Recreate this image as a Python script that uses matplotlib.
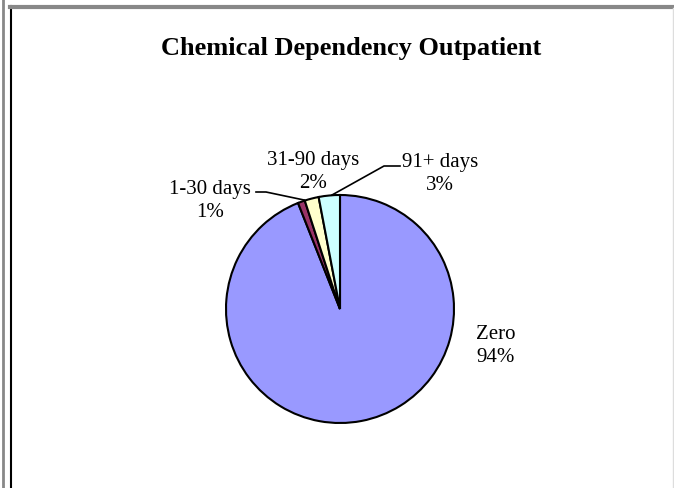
import numpy as np
import matplotlib.pyplot as plt

labels = ["Zero", "1-30 days", "31-90 days", "91+ days"]
values = [94, 1, 2, 3]
colors = ["#9999FF", "#993366", "#FFFFCC", "#CCFFFF"]
title = "Chemical Dependency Outpatient"

W, H = 674, 489
fig = plt.figure(figsize=(W / 100, H / 100), dpi=100)
plt.rcParams['font.family'] = ['Liberation Serif', 'DejaVu Serif']

# frame lines (figure pixel coords)
bg = fig.add_axes([0, 0, 1, 1])
bg.set_xlim(0, W)
bg.set_ylim(H, 0)
bg.axis('off')
bg.plot([2.5, 2.5], [0, H], color='#888888', lw=2)
bg.plot([10.5, 10.5], [7, H], color='black', lw=1.5)
bg.plot([10, W], [7.5, 7.5], color='#888888', lw=3)
bg.plot([W - 1, W - 1], [9, H], color='#dddddd', lw=1)
bg.text(351, 48, title, ha='center', va='center', fontsize=19, fontweight='bold')

# pie
cx, cy, r = 340, 310, 114
ax = fig.add_axes([(cx - r) / W, (H - cy - r) / H, 2 * r / W, 2 * r / H])
ax.pie(values, colors=colors, startangle=90, counterclock=False,
       wedgeprops=dict(edgecolor='black', linewidth=1.5))
ax.set_xlim(-1, 1)
ax.set_ylim(-1, 1)
ax.axis('off')

def px(x, y):
    return ((x - cx) / r, (cy - y) / r)

label_pos = [(496, 346), (210, 201), (313, 172), (440, 174)]
for lab, v, (x, y) in zip(labels, values, label_pos):
    ax.text(*px(x, y), f"{lab}\n{v}%", ha='center', va='center',
            fontsize=15, linespacing=1.3, clip_on=False)

# leader lines
for pts in ([(256, 193), (266, 193), (304, 201)],
            [(400, 167), (384, 167), (332, 196)]):
    xs, ys = zip(*[px(*p) for p in pts])
    ax.plot(xs, ys, color='black', lw=1.2, clip_on=False)

fig.savefig("out.png", dpi=100)
